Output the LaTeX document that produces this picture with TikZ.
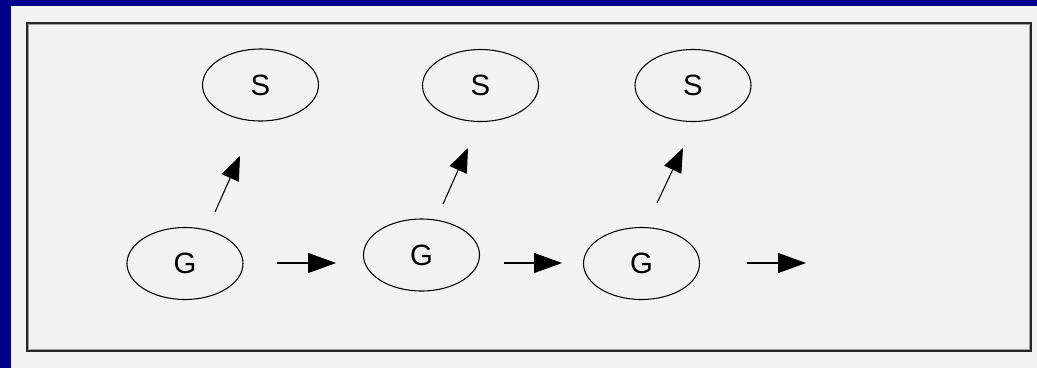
\documentclass[tikz,border=0pt]{standalone}
\usepackage{fontspec}
\setmainfont{Liberation Sans}
\usetikzlibrary{shapes.geometric,arrows.meta}
\definecolor{navy}{RGB}{0,0,136}
\definecolor{panel}{RGB}{242,242,242}
\definecolor{bevel}{RGB}{160,160,160}
\begin{document}
\begin{tikzpicture}[x=0.75pt,y=-0.75pt,
  state/.style={draw=black, line width=0.8pt, ellipse, inner sep=0pt,
    minimum width=87pt, minimum height=54pt,
    font=\fontsize{22}{22}\selectfont},
  flow/.style={line width=0.8pt, -{Triangle[length=21pt,width=15pt]}},
  emit/.style={line width=0.8pt, -{Triangle[length=18pt,width=14pt]}}
]
\useasboundingbox (0,0) rectangle (1037,368);
% page background and panel
\fill[navy] (0,0) rectangle (1037,368);
\fill[panel] (11,6) rectangle (1037,368);
% framed drawing area
\draw[black!85, line width=1.5pt] (27,23) rectangle (1031,351);
\draw[bevel, line width=0.75pt] (28.8,24.8) rectangle (1029.2,349.2);

% hidden states
\node[state] (g1) at (185,263.5) {G};
\node[state] (g2) at (421.5,255) {G};
\node[state] (g3) at (641.5,263.5) {G};
% observations
\node[state] (s1) at (260.5,85) {S};
\node[state] (s2) at (480.5,85.5) {S};
\node[state] (s3) at (693,85.5) {S};

% free arrow ends
\coordinate (h1a) at (277,263);
\coordinate (h1b) at (336,263);
\coordinate (h2a) at (504,263);
\coordinate (h2b) at (562,263);
\coordinate (h3a) at (747,263);
\coordinate (h3b) at (806,263);
\coordinate (v1a) at (215,212);
\coordinate (v1b) at (240,156);
\coordinate (v2a) at (443,204);
\coordinate (v2b) at (468,148);
\coordinate (v3a) at (657,203);
\coordinate (v3b) at (683,148);

\draw[flow] (h1a) -- (h1b);
\draw[flow] (h2a) -- (h2b);
\draw[flow] (h3a) -- (h3b);
\draw[emit] (v1a) -- (v1b);
\draw[emit] (v2a) -- (v2b);
\draw[emit] (v3a) -- (v3b);
\end{tikzpicture}
\end{document}
